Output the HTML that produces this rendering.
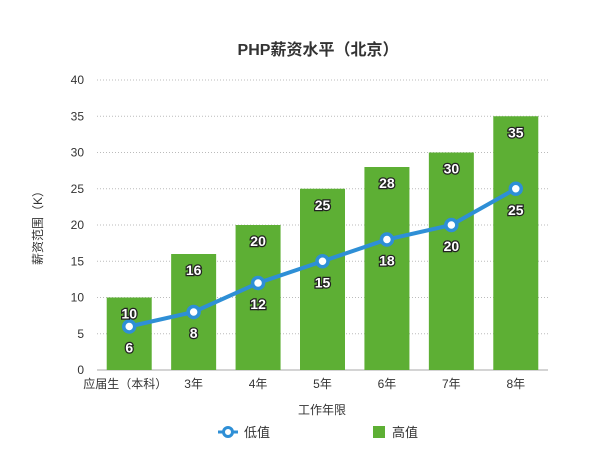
<!DOCTYPE html>
<html><head><meta charset="utf-8"><style>
body{margin:0;background:#fff}
svg text{font-family:"Liberation Sans","Noto Sans CJK SC",sans-serif}
</style></head><body>
<svg width="600" height="469" xmlns="http://www.w3.org/2000/svg">
<text x="318" y="55" text-anchor="middle" font-size="16" font-weight="bold" fill="#333">PHP薪资水平（北京）</text>
<g id="grid"></g><g id="bars"></g><g id="line"></g><g id="labels"></g>
<text transform="translate(42,225) rotate(-90)" text-anchor="middle" font-size="12" fill="#333">薪资范围（K）</text>
<text x="322" y="414" text-anchor="middle" font-size="12" fill="#333">工作年限</text>
<g><line x1="218" y1="432" x2="238" y2="432" stroke="#2e8fd6" stroke-width="3"/><circle cx="228" cy="432" r="4.5" fill="#fff" stroke="#2e8fd6" stroke-width="3"/><text x="244" y="437" font-size="13" fill="#333">低值</text></g>
<g><rect x="373" y="426" width="12" height="12" fill="#5daf34"/><text x="392" y="437" font-size="13" fill="#333">高值</text></g>
</svg>
<script>
const categories=["应届生（本科）","3年","4年","5年","6年","7年","8年"];
const highValues=[10,16,20,25,28,30,35];
const lowValues=[6,8,12,15,18,20,25];
const yTicks=[0,5,10,15,20,25,30,35,40];
const NS="http://www.w3.org/2000/svg";
const L=97,R=548,T=80,B=370,yMax=40;
const bw=(R-L)/categories.length;
const y=v=>B-(v/yMax)*(B-T);
const xc=i=>L+bw*i+bw/2;
function mk(t,a,p,txt){const e=document.createElementNS(NS,t);for(const k in a)e.setAttribute(k,a[k]);if(txt!==undefined)e.textContent=txt;p.appendChild(e);return e;}
const g=document.getElementById('grid'),gb=document.getElementById('bars'),gl=document.getElementById('line'),lb=document.getElementById('labels');
yTicks.forEach(v=>{
 if(v>0){const ln=mk('line',{x1:L,x2:R,y1:y(v),y2:y(v),stroke:'#bbb','stroke-dasharray':'1,2'},g);
 
 }
 const t=mk('text',{x:L-13,y:y(v)+4,'text-anchor':'end','font-size':'12',fill:'#333'},g,v);
 
 
});
const ax=mk('line',{x1:L,x2:R,y1:B,y2:B,stroke:'#aaa'},g);


categories.forEach((c,i)=>{
 const t=mk('text',{x:i===0?xc(i)-4:xc(i),y:388,'text-anchor':'middle','font-size':'12',fill:'#333'},g,c);
 
 
 const b=mk('rect',{x:xc(i)-22.5,y:y(highValues[i]),width:45,height:B-y(highValues[i]),fill:'#5daf34'},gb);
 
 
 const bt=mk('text',{x:xc(i),y:y(highValues[i])+21,'text-anchor':'middle','font-size':'14','font-weight':'bold',fill:'#fff',stroke:'#222','stroke-width':'2.5','paint-order':'stroke'},lb,highValues[i]);
 
 
 const lt=mk('text',{x:xc(i),y:y(lowValues[i])+26,'text-anchor':'middle','font-size':'14','font-weight':'bold',fill:'#fff',stroke:'#222','stroke-width':'2.5','paint-order':'stroke'},lb,lowValues[i]);
 
 
});
const pl=mk('polyline',{points:lowValues.map((v,i)=>xc(i)+','+y(v)).join(' '),fill:'none',stroke:'#2e8fd6','stroke-width':'4'},gl);


lowValues.forEach((v,i)=>{
 const c=mk('circle',{cx:xc(i),cy:y(v),r:5.5,fill:'#fff',stroke:'#2e8fd6','stroke-width':'3.5'},gl);
 
 
});
</script>
</body></html>
